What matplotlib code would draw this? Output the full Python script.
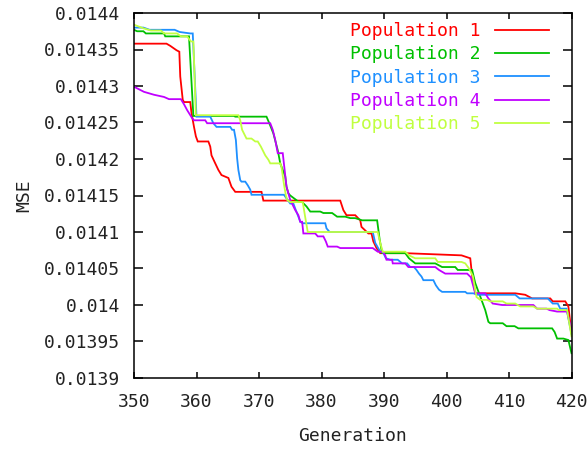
import matplotlib
matplotlib.use("Agg")
import matplotlib.pyplot as plt
from matplotlib.ticker import FixedLocator, FuncFormatter

# ---------------- data ----------------
gen1 = [350, 355.2, 355.8, 356.8, 357.25, 357.4, 357.8, 358, 359, 359.2, 359.6, 359.9, 360.2, 361.9, 362.2,
        362.4, 363, 363.5, 364, 365.1, 365.6, 366.2, 370.4, 370.7, 383, 383.5, 384, 385.4, 386.2, 386.4,
        387.5, 388, 388.3, 388.8, 389.4, 393.4, 402.4, 403.8, 404.1, 404.6, 405, 411, 412.6, 413.7, 416.6,
        417, 419, 419.5, 420]
mse1 = [0.014358, 0.014358, 0.014355, 0.014349, 0.014347, 0.014313, 0.014281, 0.014278, 0.014278, 0.014263,
        0.014244, 0.014231, 0.014224, 0.014224, 0.014217, 0.014205, 0.014194, 0.014185, 0.014178, 0.014174,
        0.014162, 0.014155, 0.014155, 0.014143, 0.014143, 0.014130, 0.014123, 0.014123, 0.014116, 0.014107,
        0.014098, 0.014098, 0.014087, 0.014078, 0.014071, 0.014071, 0.014068, 0.014064, 0.014040, 0.014016,
        0.014016, 0.014016, 0.014014, 0.014009, 0.014009, 0.014005, 0.014005, 0.013998, 0.013962]

gen2 = [350, 350.5, 351.5, 351.9, 354.8, 355, 358.8, 359.5, 366, 366.2, 371.2, 371.6, 372.3, 373.0, 373.4,
        374.2, 374.4, 374.7, 375, 376.4, 376.9, 377.6, 378.2, 379.8, 380.3, 381.7, 382.5, 383.8, 384.6, 385.4,
        386.5, 388.9, 389.3, 389.7, 393.4, 394, 395, 398.2, 399.3, 401.4, 401.8, 404.1, 404.6, 405.6, 406.2,
        406.7, 407, 409, 409.6, 410.9, 411.5, 416.9, 417.3, 417.7, 418.7, 419.5, 420]
mse2 = [0.014377, 0.014375, 0.014375, 0.014372, 0.014372, 0.014368, 0.014368, 0.014259, 0.014259, 0.014258,
        0.014258, 0.014250, 0.014235, 0.014212, 0.014194, 0.014176, 0.014162, 0.014153, 0.014150, 0.014141,
        0.014141, 0.014135, 0.014128, 0.014128, 0.014126, 0.014126, 0.014121, 0.014121, 0.014119, 0.014119,
        0.014116, 0.014116, 0.014090, 0.014071, 0.014071, 0.014064, 0.014057, 0.014057, 0.014052, 0.014052,
        0.014048, 0.014048, 0.014030, 0.014007, 0.013993, 0.013977, 0.013975, 0.013975, 0.013971, 0.013971,
        0.013968, 0.013968, 0.013963, 0.013954, 0.013954, 0.013952, 0.013934]

gen3 = [350, 351.5, 352.5, 356.5, 357.3, 359.0, 359.4, 360.0, 362.2, 362.7, 363.2, 365.4, 365.7, 366.0, 366.3,
        366.5, 366.7, 367.0, 367.2, 367.8, 368.2, 368.6, 368.8, 374.0, 374.4, 375.0, 375.5, 375.8, 376.3, 376.6,
        377.0, 380.6, 380.8, 381.3, 388.2, 388.6, 389.4, 389.8, 390.3, 391.0, 392.2, 392.9, 393.7, 394.2, 394.8,
        395.2, 395.6, 396.0, 396.3, 397.9, 398.3, 398.8, 399.3, 403.0, 403.3, 404.3, 405.0, 411.0, 411.7, 416.2,
        417.0, 417.8, 418.2, 419.2, 420]
mse3 = [0.014380, 0.014380, 0.014377, 0.014377, 0.014374, 0.014372, 0.014372, 0.014258, 0.014258, 0.014249,
        0.014244, 0.014244, 0.014240, 0.014240, 0.014226, 0.014201, 0.014185, 0.014171, 0.014169, 0.014169,
        0.014164, 0.014158, 0.014151, 0.014151, 0.014146, 0.014139, 0.014139, 0.014132, 0.014121, 0.014114,
        0.014112, 0.014112, 0.014105, 0.014100, 0.014100, 0.014085, 0.014073, 0.014073, 0.014064, 0.014062,
        0.014062, 0.014057, 0.014057, 0.014052, 0.014052, 0.014048, 0.014043, 0.014039, 0.014034, 0.014034,
        0.014027, 0.014021, 0.014018, 0.014018, 0.014016, 0.014016, 0.014014, 0.014014, 0.014009, 0.014009,
        0.014002, 0.014002, 0.013995, 0.013995, 0.013960]

gen4 = [350, 351.6, 353.2, 354.8, 355.6, 357.5, 358.0, 358.5, 359.3, 359.6, 361.4, 361.7, 371.8, 372.2, 372.6,
        373.0, 373.8, 374.1, 374.4, 375.0, 375.8, 376.3, 376.6, 376.9, 377.1, 379.0, 379.4, 380.3, 380.7, 381.0,
        382.5, 383.0, 388.2, 389.0, 389.8, 390.2, 390.4, 391.3, 391.4, 393.4, 393.9, 398.2, 398.8, 399.8, 403.3,
        403.9, 404.6, 405.0, 406.2, 406.7, 407.4, 408.9, 413.9, 414.5, 416.0, 416.5, 417.7, 419.3, 420]
mse4 = [0.014299, 0.014292, 0.014288, 0.014285, 0.014282, 0.014282, 0.014275, 0.014267, 0.014256, 0.014253,
        0.014253, 0.014249, 0.014249, 0.014240, 0.014226, 0.014208, 0.014208, 0.014185, 0.014162, 0.014144,
        0.014130, 0.014123, 0.014114, 0.014114, 0.014098, 0.014098, 0.014094, 0.014094, 0.014087, 0.014080,
        0.014080, 0.014078, 0.014078, 0.014073, 0.014073, 0.014068, 0.014062, 0.014062, 0.014057, 0.014057,
        0.014052, 0.014052, 0.014048, 0.014043, 0.014043, 0.014038, 0.014016, 0.014016, 0.014016, 0.014009,
        0.014002, 0.014000, 0.014000, 0.013995, 0.013995, 0.013993, 0.013991, 0.013991, 0.013965]

gen5 = [350, 351.5, 352.7, 354.3, 354.8, 356.9, 357.5, 358.5, 359.1, 359.5, 359.9, 366.7, 367.0, 367.3, 368.0,
        368.8, 369.4, 369.8, 370.3, 371.0, 371.5, 371.8, 373.4, 373.6, 374.0, 374.3, 374.5, 375.0, 377.0, 377.4,
        377.8, 389.0, 389.4, 389.8, 393.4, 394.0, 395.0, 398.2, 398.6, 402.4, 403.0, 403.6, 404.2, 404.8, 405.4,
        406.5, 407.0, 409.0, 409.6, 411.0, 411.8, 413.9, 414.5, 417.7, 418.0, 419.3, 420]
mse5 = [0.014384, 0.014379, 0.014376, 0.014376, 0.014372, 0.014372, 0.014368, 0.014368, 0.014361, 0.014361,
        0.014260, 0.014260, 0.014253, 0.014240, 0.014228, 0.014228, 0.014224, 0.014224, 0.014217, 0.014205,
        0.014199, 0.014194, 0.014194, 0.014189, 0.014165, 0.014150, 0.014144, 0.014141, 0.014141, 0.014120,
        0.014100, 0.014100, 0.014085, 0.014073, 0.014073, 0.014068, 0.014064, 0.014064, 0.014059, 0.014059,
        0.014057, 0.014050, 0.014040, 0.014011, 0.014007, 0.014007, 0.014005, 0.014005, 0.014002, 0.014002,
        0.013998, 0.013998, 0.013995, 0.013995, 0.013993, 0.013993, 0.013957]

labels = ["Population 1", "Population 2", "Population 3", "Population 4", "Population 5"]
colors = ["#ff0000", "#00c000", "#1e90ff", "#c000ff", "#c0ff40"]

xticks = [350, 360, 370, 380, 390, 400, 410, 420]
yticks = [0.0139, 0.01395, 0.014, 0.01405, 0.0141, 0.01415, 0.0142, 0.01425, 0.0143, 0.01435, 0.0144]

# ---------------- plot ----------------
plt.rcParams["font.family"] = ["DejaVu Sans Mono"]
FS = 13
fig = plt.figure(figsize=(5.87, 4.5), dpi=100)
ax = fig.add_axes([134 / 587, 1 - 378 / 450, 437.5 / 587, 365 / 450])

series = [(gen1, mse1), (gen2, mse2), (gen3, mse3), (gen4, mse4), (gen5, mse5)]
for (g, m), lab, col in zip(series, labels, colors):
    ax.plot(g, m, color=col, lw=1.3, label=lab, solid_joinstyle="miter")

ax.set_xlim(350, 420)
ax.set_ylim(0.0139, 0.0144)
ax.xaxis.set_major_locator(FixedLocator(xticks))
ax.yaxis.set_major_locator(FixedLocator(yticks))
ax.yaxis.set_major_formatter(FuncFormatter(lambda v, p: "%g" % v))
ax.xaxis.set_major_formatter(FuncFormatter(lambda v, p: "%g" % v))

ax.tick_params(axis="both", direction="in", top=True, right=True, labelsize=FS,
               colors="black", labelcolor="#222222", width=1.1)
ax.tick_params(axis="y", length=6.5, pad=10)
ax.tick_params(axis="x", length=4.5, pad=11)
for s in ax.spines.values():
    s.set_linewidth(1.1)

ax.set_xlabel("Generation", fontsize=FS, labelpad=11, color="#222222")
ax.set_ylabel("MSE", fontsize=FS, labelpad=8, color="#222222")

leg = ax.legend(loc="upper right", bbox_to_anchor=(0.9486, 0.975), markerfirst=False, frameon=False,
                labelcolor="linecolor", fontsize=FS, handlelength=3.0, handletextpad=0.8,
                labelspacing=0.29, borderpad=0, borderaxespad=0)

fig.savefig("out.png", dpi=100)
